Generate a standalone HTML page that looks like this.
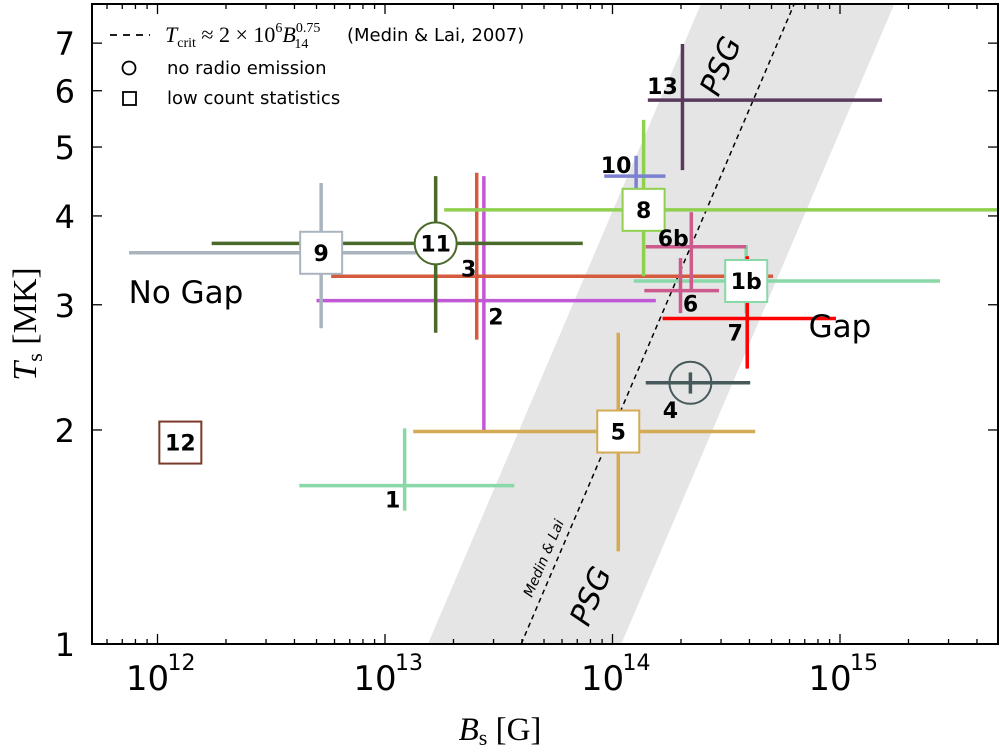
<!DOCTYPE html>
<html><head><meta charset="utf-8"><style>
html,body{margin:0;padding:0;background:#fff;width:1000px;height:753px;overflow:hidden;position:relative}
svg{display:block}
text{font-family:"DejaVu Sans","Liberation Sans",sans-serif}
.serif{font-family:"Liberation Serif","DejaVu Serif",serif}
</style></head><body>
<svg id="chart" width="1000" height="753" viewBox="0 0 1000 753" style="position:absolute;left:0;top:0"></svg>
<script>
const names   = ["1","1b","2","3","4","5","6","6b","7","8","9","10","11","12","13"];
const bVals   = [1.22e13,3.87e14,2.72e13,2.53e13,2.2e14,1.06e14,1.99e14,2.22e14,3.91e14,1.37e14,5.24e12,1.27e14,1.67e13,1.26e12,2.03e14];
const bLo     = [4.2e12,1.24e14,5.0e12,5.8e12,1.40e14,1.33e13,1.38e14,1.40e14,1.66e14,1.82e13,7.5e11,9.2e13,1.73e12,null,1.43e14];
const bHi     = [3.7e13,2.75e15,1.55e14,5.08e14,4.03e14,4.24e14,2.94e14,3.87e14,9.6e14,6e15,1.85e13,1.71e14,7.4e13,null,1.53e15];
const tVals   = [1.67,3.24,3.04,3.29,2.33,1.99,3.14,3.62,2.87,4.08,3.55,4.55,3.66,1.92,5.82];
const tLo     = [1.54,2.92,1.99,2.68,2.25,1.35,2.92,3.15,2.44,3.29,2.78,4.08,2.74,null,4.64];
const tHi     = [2.01,3.64,4.55,4.6,2.41,2.74,3.49,4.05,3.51,5.46,4.45,4.86,4.55,null,6.98];
const colors  = ["#88d8a8","#88d8a8","#c158d6","#d65a3e","#465a5c","#d4aa55","#cc5a8c","#cc5a8c","#ff0000","#90d050","#aab4bf","#7b80d0","#4a6a2c","#7a3a2a","#5a3a5c"];
const markers = ["","square","","","circle","square","","","","square","square","","circle","square",""];
const labelDx = [-12,0,12,-8,-20,0,10,-18,-12,0,0,-20,0,0,-20];
const labelDy = [14,0,16,-8,27,0,13,-9,14,0,0,-11,0,0,-14];
const xTickVals = [12,13,14,15];
const yTickVals = [1,2,3,4,5,6,7];

const L=92,R=998,T=4,B=644;
const xs = b => 385 + 227.5*(Math.log10(b)-13);
const ys = t => 644 - 711*Math.log10(t);
const svg=document.getElementById('chart');
const NS="http://www.w3.org/2000/svg";
function mk(tag,attrs,parent){const e=document.createElementNS(NS,tag);for(const k in attrs)e.setAttribute(k,attrs[k]);(parent||svg).appendChild(e);return e;}

const defs=mk('defs',{});
const cp=mk('clipPath',{id:'clip'},defs);mk('rect',{x:L,y:T,width:R-L,height:B-T},cp);
const plot=mk('g',{'clip-path':'url(#clip)'});



// B at which Tcrit = t
const bCrit = t => 1e14*Math.pow(t/2,4/3);
const tMin=1, tMax=Math.pow(10,640/711);
function lineAt(f){return [[xs(bCrit(tMin)*f),ys(tMin)],[xs(bCrit(tMax)*f),ys(tMax)]];}
const lo=lineAt(Math.pow(10,-0.41)), hi=lineAt(Math.pow(10,0.44));
const band=mk('polygon',{points:[lo[0],lo[1],hi[1],hi[0]].map(p=>p.join(',')).join(' '),fill:'#e5e5e5'},plot);


const ml=lineAt(1);
const crl=mk('line',{x1:ml[0][0],y1:ml[0][1],x2:ml[1][0],y2:ml[1][1],stroke:'#000','stroke-width':1.5,'stroke-dasharray':'5,4'},plot);



for(let i=0;i<names.length;i++){
  const g=mk('g',{},plot);
  
  
  const cx=xs(bVals[i]), cy=ys(tVals[i]);
  if(bLo[i]!==null){
    mk('line',{x1:xs(bLo[i]),y1:cy,x2:Math.min(xs(bHi[i]),R),y2:cy,stroke:colors[i],'stroke-width':3.5},g);
    mk('line',{x1:cx,y1:ys(tLo[i]),x2:cx,y2:ys(tHi[i]),stroke:colors[i],'stroke-width':3.5},g);
  }
}
for(let i=0;i<names.length;i++){
  const cx=xs(bVals[i]), cy=ys(tVals[i]);
  if(markers[i]==='square'){
    const r=mk('rect',{x:cx-21,y:cy-21,width:42,height:42,fill:'#fff',stroke:colors[i],'stroke-width':2},plot);
    
    
  } else if(markers[i]==='circle'){
    const c=mk('circle',{cx:cx,cy:cy,r:21,fill:names[i]==='4'?'none':'#fff',stroke:colors[i],'stroke-width':2},plot);
    
    
  }
}
for(let i=0;i<names.length;i++){
  const cx=xs(bVals[i])+labelDx[i], cy=ys(tVals[i])+labelDy[i];
  const t=mk('text',{x:cx,y:cy+8,'text-anchor':'middle','font-size':22,'font-weight':'bold',fill:'#000'},plot);
  t.textContent=names[i];
  
  
}
function txt(s,x,y,size,name,extra){const t=mk('text',Object.assign({x:x,y:y,'font-size':size},extra||{}),plot);t.textContent=s;return t;}
txt('PSG',730,70,30,'psg-label-top',{transform:'rotate(-67 730 70)','text-anchor':'middle','font-style':'italic'});
txt('PSG',600,600,30,'psg-label-bottom',{transform:'rotate(-67 600 600)','text-anchor':'middle','font-style':'italic'});
txt('Medin & Lai',548,560,14,'medin-lai-label',{transform:'rotate(-67 548 560)','text-anchor':'middle','font-style':'italic'});
txt('No Gap',186,303,31,'no-gap-label',{'text-anchor':'middle'});
txt('Gap',840,337,31,'gap-label',{'text-anchor':'middle'});

const ax=mk('g',{});


mk('rect',{x:L,y:T,width:R-L,height:B-T,fill:'none',stroke:'#000','stroke-width':2},ax);
for(let d=11;d<=15;d++){for(let m=1;m<10;m++){const x=xs(m*Math.pow(10,d));if(x<L||x>R)continue;const len=m===1?10:5;
  mk('line',{x1:x,y1:B,x2:x,y2:B-len,stroke:'#000','stroke-width':1.3},ax);
  mk('line',{x1:x,y1:T,x2:x,y2:T+len,stroke:'#000','stroke-width':1.3},ax);}}
xTickVals.forEach(v=>{const x=xs(Math.pow(10,v));
  const t=mk('text',{x:x-10,y:690,'text-anchor':'middle','font-size':34},ax);t.textContent='10';
  
  const s=mk('text',{x:x+24,y:670,'text-anchor':'middle','font-size':22},ax);s.textContent=String(v);
  });
yTickVals.forEach(v=>{const y=ys(v);
  mk('line',{x1:L,y1:y,x2:L+10,y2:y,stroke:'#000','stroke-width':1.3},ax);
  mk('line',{x1:R,y1:y,x2:R-10,y2:y,stroke:'#000','stroke-width':1.3},ax);
  const t=mk('text',{x:75,y:y+12,'text-anchor':'end','font-size':32},ax);t.textContent=String(v);
  });
</script>
<svg width="1000" height="753" style="position:absolute;left:0;top:0">
<text class="serif" x="500" y="740" text-anchor="middle" font-size="33"><tspan font-style="italic">B</tspan><tspan font-size="22" dy="5">s</tspan><tspan dy="-5"> [G]</tspan></text>
<text class="serif" transform="translate(36 324) rotate(-90)" text-anchor="middle" font-size="34"><tspan font-style="italic">T</tspan><tspan font-size="22" dy="6">s</tspan><tspan dy="-6"> [MK]</tspan></text>
<g>
<line x1="110" y1="35" x2="150" y2="35" stroke="#000" stroke-width="1.8" stroke-dasharray="7,6"/>
<text class="serif" x="165" y="42" font-size="22"><tspan font-style="italic">T</tspan><tspan font-size="14" dy="5">crit</tspan><tspan dy="-5"> ≈ 2 × 10</tspan><tspan font-size="14" dy="-10">6</tspan><tspan font-style="italic" dy="10">B</tspan><tspan font-size="14" dy="-10">0.75</tspan><tspan font-size="14" dx="-26" dy="16">14</tspan></text>
<text x="347" y="41" font-size="18">(Medin &amp; Lai, 2007)</text>
<circle cx="129" cy="68" r="6.5" fill="none" stroke="#000" stroke-width="1.8"/>
<text x="167" y="74" font-size="18">no radio emission</text>
<rect x="123" y="92" width="13" height="13" fill="none" stroke="#000" stroke-width="1.8"/>
<text x="167" y="104" font-size="18">low count statistics</text>
</g>
</svg>
</body></html>
